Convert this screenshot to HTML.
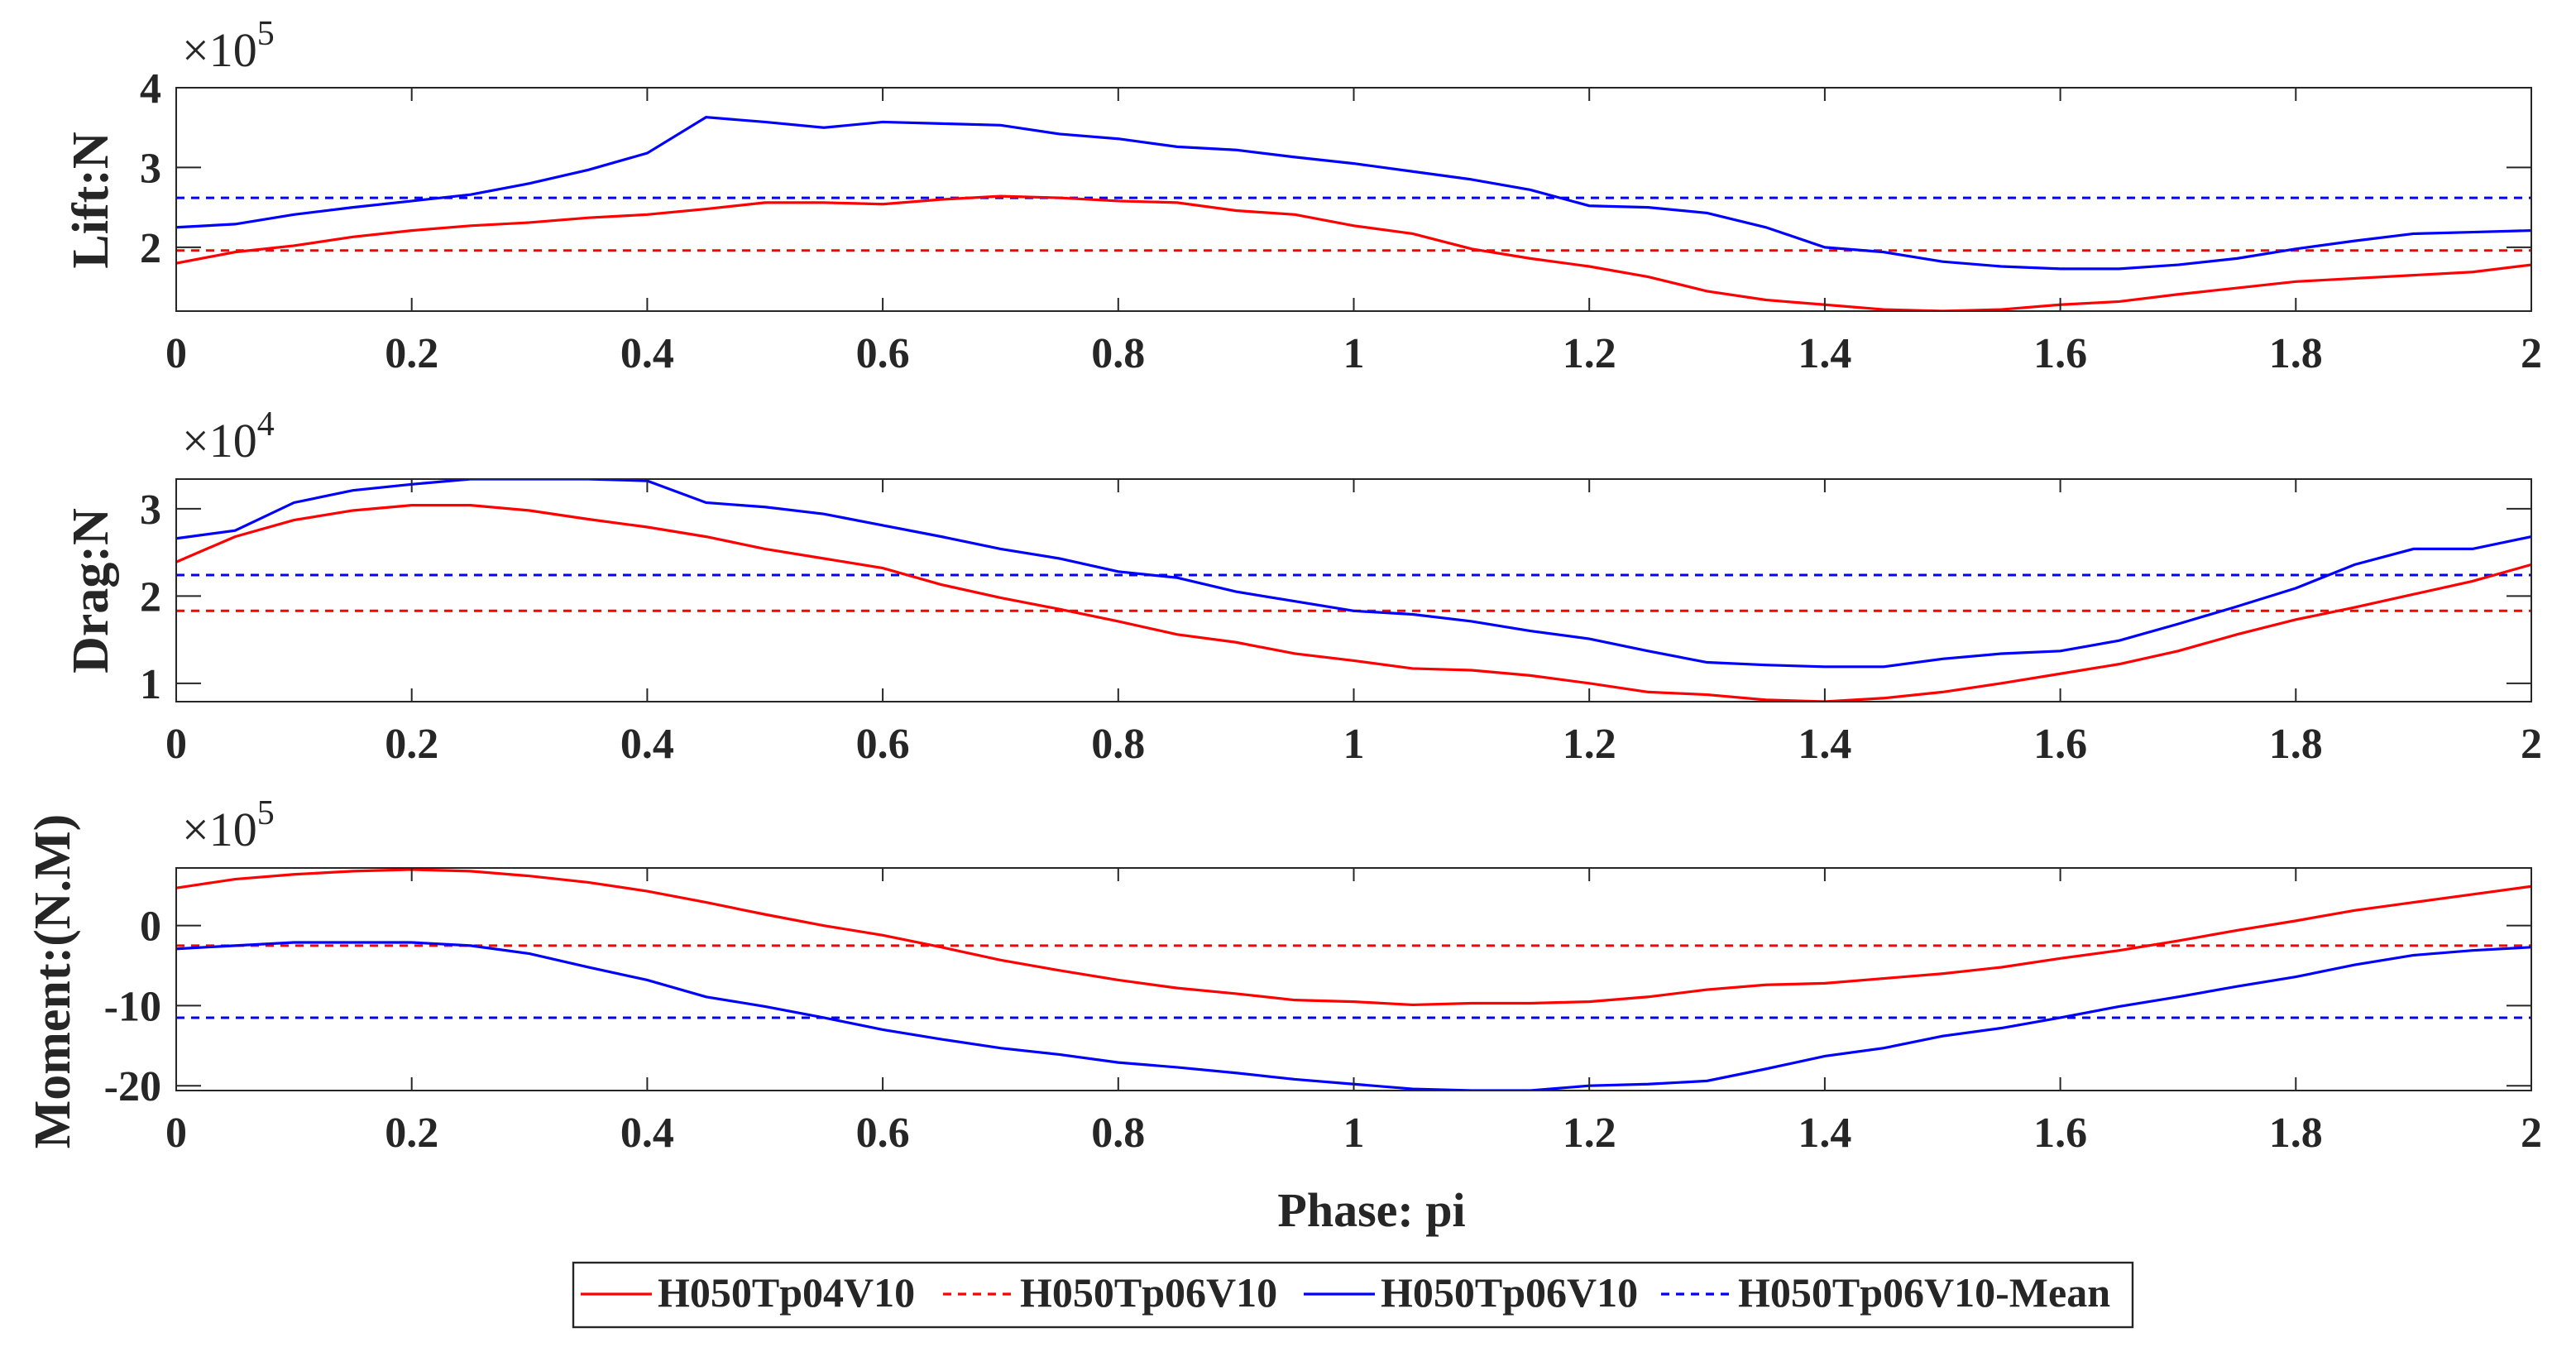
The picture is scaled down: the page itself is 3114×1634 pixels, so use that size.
<!DOCTYPE html>
<html><head><meta charset="utf-8"><style>
html,body{margin:0;padding:0;background:#fff}
svg{display:block}
text{font-family:"Liberation Serif",serif;fill:#262626}
</style></head><body>
<svg id="chart" width="3114" height="1634" viewBox="0 0 1557 817" xmlns="http://www.w3.org/2000/svg"></svg>
<script>
const phase = [];
for (let i = 0; i <= 40; i++) phase.push(i * 0.05);
const xTicks = [0,0.2,0.4,0.6,0.8,1,1.2,1.4,1.6,1.8,2];
const xTickLabels = ["0","0.2","0.4","0.6","0.8","1","1.2","1.4","1.6","1.8","2"];

const liftRed = [1.80,1.94,2.02,2.13,2.21,2.27,2.31,2.37,2.41,2.48,2.56,2.56,2.54,2.60,2.64,2.62,2.58,2.56,2.46,2.41,2.27,2.17,1.98,1.86,1.76,1.63,1.45,1.34,1.28,1.22,1.20,1.22,1.28,1.32,1.41,1.49,1.57,1.61,1.65,1.69,1.78];
const liftBlue = [2.25,2.29,2.41,2.50,2.58,2.66,2.80,2.97,3.18,3.63,3.57,3.50,3.57,3.55,3.53,3.42,3.36,3.26,3.22,3.13,3.05,2.95,2.85,2.72,2.52,2.50,2.43,2.25,2.00,1.94,1.82,1.76,1.73,1.73,1.78,1.86,1.98,2.08,2.17,2.19,2.21];
const liftRedMean = 1.96, liftBlueMean = 2.62;
const liftTicks = [2,3,4], liftTickLabels = ["2","3","4"];

const dragRed = [2.39,2.68,2.87,2.98,3.04,3.04,2.98,2.88,2.79,2.68,2.54,2.43,2.32,2.13,1.98,1.85,1.71,1.56,1.47,1.34,1.26,1.17,1.15,1.09,1.00,0.90,0.87,0.81,0.79,0.83,0.90,1.00,1.11,1.22,1.37,1.56,1.73,1.87,2.02,2.17,2.36];
const dragBlue = [2.66,2.75,3.07,3.21,3.28,3.34,3.34,3.34,3.32,3.07,3.02,2.94,2.81,2.68,2.54,2.43,2.28,2.21,2.05,1.94,1.83,1.79,1.71,1.60,1.51,1.37,1.24,1.21,1.19,1.19,1.28,1.34,1.37,1.49,1.68,1.88,2.09,2.36,2.54,2.54,2.68];
const dragRedMean = 1.83, dragBlueMean = 2.24;
const dragTicks = [1,2,3], dragTickLabels = ["1","2","3"];

const momRed = [4.7,5.8,6.4,6.8,7.0,6.8,6.2,5.4,4.3,2.9,1.4,0,-1.2,-2.7,-4.3,-5.6,-6.8,-7.8,-8.5,-9.3,-9.5,-9.9,-9.7,-9.7,-9.5,-8.9,-8.0,-7.4,-7.2,-6.6,-6.0,-5.2,-4.1,-3.1,-1.9,-0.6,0.6,1.9,2.9,3.9,4.9];
const momBlue = [-2.9,-2.5,-2.1,-2.1,-2.1,-2.5,-3.5,-5.2,-6.8,-8.9,-10.1,-11.5,-13.0,-14.2,-15.3,-16.1,-17.1,-17.7,-18.4,-19.2,-19.8,-20.4,-20.6,-20.6,-20.0,-19.8,-19.4,-17.9,-16.3,-15.3,-13.8,-12.8,-11.5,-10.1,-8.9,-7.6,-6.4,-4.9,-3.7,-3.1,-2.7];
const momRedMean = -2.5, momBlueMean = -11.5;
const momTicks = [-20,-10,0], momTickLabels = ["-20","-10","0"];

const NS = "http://www.w3.org/2000/svg";
const svg = document.getElementById('chart');
function mk(tag, attrs, parent) {
  const e = document.createElementNS(NS, tag);
  for (const k in attrs) e.setAttribute(k, attrs[k]);
  (parent || svg).appendChild(e);
  return e;
}
const X0 = 106.5, X1 = 1530;
const xs = v => X0 + (v - 0) / 2 * (X1 - X0);

const panels = [
  {name:'lift', top:53, bot:188, ymin:1.2, ymax:4.0, red:liftRed, blue:liftBlue, rm:liftRedMean, bm:liftBlueMean, ticks:liftTicks, tl:liftTickLabels, label:'Lift:N', exp:'5', labelX:54, labelY:121, expY:40},
  {name:'drag', top:289.5, bot:424, ymin:0.79, ymax:3.34, red:dragRed, blue:dragBlue, rm:dragRedMean, bm:dragBlueMean, ticks:dragTicks, tl:dragTickLabels, label:'Drag:N', exp:'4', labelX:54, labelY:357, expY:276},
  {name:'moment', top:524.5, bot:659, ymin:-20.6, ymax:7.2, red:momRed, blue:momBlue, rm:momRedMean, bm:momBlueMean, ticks:momTicks, tl:momTickLabels, label:'Moment:(N.M)', exp:'5', labelX:31, labelY:593, expY:511},
];

panels.forEach((p, pi) => {
  const g = mk('g', {});
  
  
  const ys = v => p.bot - (v - p.ymin) / (p.ymax - p.ymin) * (p.bot - p.top);
  const cid = 'clip' + pi;
  const cp = mk('clipPath', {id: cid}, g);
  mk('rect', {x: X0, y: p.top, width: X1 - X0, height: p.bot - p.top}, cp);
  const bg = mk('rect', {x: X0, y: p.top, width: X1 - X0, height: p.bot - p.top, fill: '#fff'}, g);
  
  
  const lines = mk('g', {'clip-path': 'url(#' + cid + ')'}, g);
  const mean = (v, col, nm) => {
    const l = mk('line', {x1: X0, x2: X1, y1: ys(v), y2: ys(v), stroke: col, 'stroke-width': 1.5, 'stroke-dasharray': '5,4'}, lines);
    
    
  };
  mean(p.rm, '#ff0000', p.name + '-red-mean-line');
  mean(p.bm, '#0000ff', p.name + '-blue-mean-line');
  const series = (arr, col, nm) => {
    const d = arr.map((v, i) => (i ? 'L' : 'M') + xs(phase[i]).toFixed(2) + ',' + ys(v).toFixed(2)).join('');
    const pa = mk('path', {d: d, fill: 'none', stroke: col, 'stroke-width': 1.6}, lines);
    
    
  };
  series(p.red, '#ff0000', p.name + '-red-series');
  series(p.blue, '#0000ff', p.name + '-blue-series');
  const fr = mk('rect', {x: X0, y: p.top, width: X1 - X0, height: p.bot - p.top, fill: 'none', stroke: '#262626', 'stroke-width': 1}, g);
  
  
  xTicks.forEach((t, i) => {
    const x = xs(t);
    mk('line', {x1: x, x2: x, y1: p.bot, y2: p.bot - 8, stroke: '#262626', 'stroke-width': 1}, g);
    mk('line', {x1: x, x2: x, y1: p.top, y2: p.top + 8, stroke: '#262626', 'stroke-width': 1}, g);
    const tx = mk('text', {x: x, y: p.bot + 34, 'text-anchor': 'middle', 'font-size': 26, 'font-weight': 'bold'}, g);
    
    
    tx.textContent = xTickLabels[i];
  });
  p.ticks.forEach((t, i) => {
    const y = ys(t);
    mk('line', {x1: X0, x2: X0 + 15, y1: y, y2: y, stroke: '#262626', 'stroke-width': 1}, g);
    mk('line', {x1: X1, x2: X1 - 15, y1: y, y2: y, stroke: '#262626', 'stroke-width': 1}, g);
    const tx = mk('text', {x: 97.5, y: y + 9, 'text-anchor': 'end', 'font-size': 26, 'font-weight': 'bold'}, g);
    
    
    tx.textContent = p.tl[i];
  });
  const ex = mk('text', {x: 110, y: p.expY, 'font-size': 29}, g);
  
  
  ex.innerHTML = '×10<tspan dy="-13" font-size="21">' + p.exp + '</tspan>';
  const yl = mk('text', {x: 0, y: 0, 'text-anchor': 'middle', 'font-size': 31, 'font-weight': 'bold', transform: 'translate(' + (p.labelX + 11) + ',' + p.labelY + ') rotate(-90)'}, g);
  
  
  yl.textContent = p.label;
});

const xt = mk('text', {x: 829, y: 741, 'text-anchor': 'middle', 'font-size': 29, 'font-weight': 'bold'});


xt.textContent = 'Phase:  pi';

const lg = mk('g', {});


mk('rect', {x: 346.5, y: 763, width: 942.5, height: 39, fill: '#fff', stroke: '#262626', 'stroke-width': 1.2}, lg);
const entries = [
  {x: 351, col: '#ff0000', dash: null, t: 'H050Tp04V10'},
  {x: 570, col: '#ff0000', dash: '5,4', t: 'H050Tp06V10'},
  {x: 788, col: '#0000ff', dash: null, t: 'H050Tp06V10'},
  {x: 1004, col: '#0000ff', dash: '5,4', t: 'H050Tp06V10-Mean'},
];
entries.forEach(e => {
  const eg = mk('g', {}, lg);
  
  
  const a = {x1: e.x, x2: e.x + 43, y1: 782, y2: 782, stroke: e.col, 'stroke-width': 1.6};
  if (e.dash) a['stroke-dasharray'] = e.dash;
  mk('line', a, eg);
  const t = mk('text', {x: e.x + 46.5, y: 789.5, 'font-size': 25, 'font-weight': 'bold', fill: '#000'}, eg);
  t.textContent = e.t;
});
</script>
</body></html>
